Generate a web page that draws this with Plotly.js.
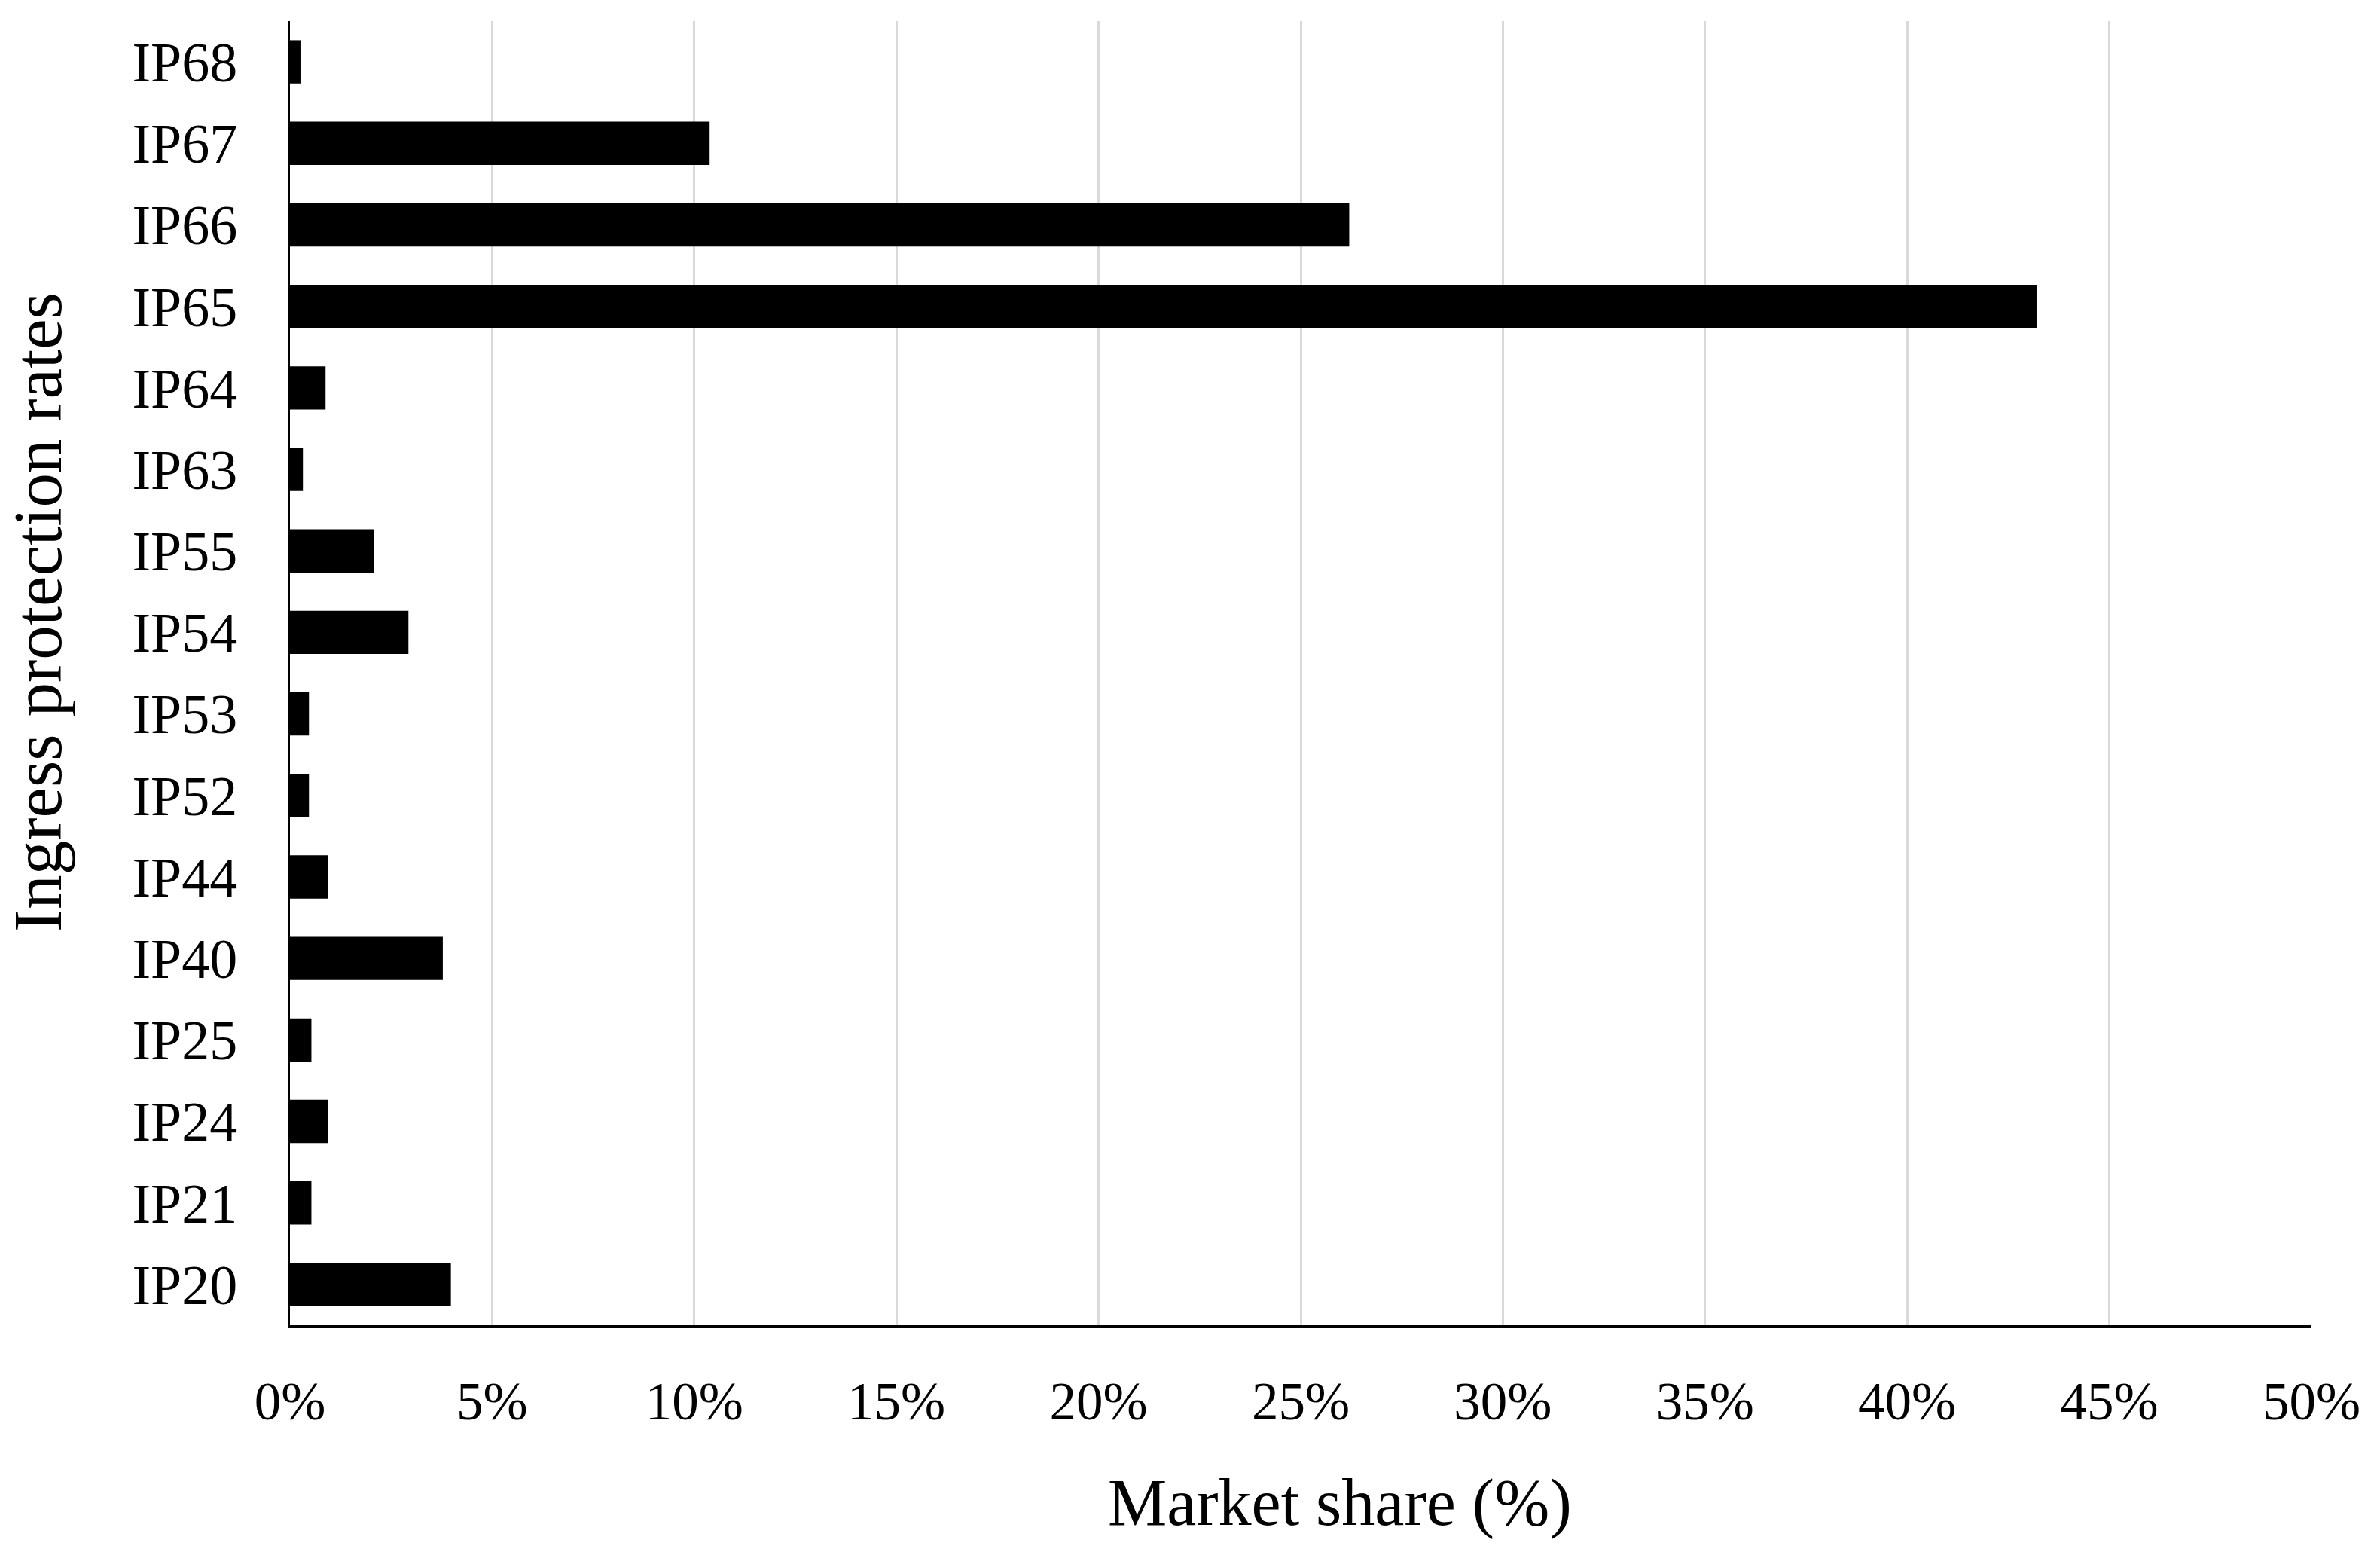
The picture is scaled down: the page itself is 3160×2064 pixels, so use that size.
<!DOCTYPE html>
<html>
<head>
<meta charset="utf-8">
<script src="https://cdn.plot.ly/plotly-3.0.1.min.js"></script>
<style>html,body{margin:0;padding:0;background:#fff;}#chart{width:3160px;height:2064px;}</style>
</head>
<body>
<div id="chart"></div>
<script>
// Categories listed bottom to top
const categories = ["IP20","IP21","IP24","IP25","IP40","IP44","IP52","IP53","IP54","IP55","IP63","IP64","IP65","IP66","IP67","IP68"];
// Market share (%)
const shares = [3.98, 0.53, 0.95, 0.53, 3.78, 0.95, 0.47, 0.47, 2.93, 2.07, 0.32, 0.88, 43.2, 26.2, 10.38, 0.26];
const xTickValues = [0,5,10,15,20,25,30,35,40,45,50];
const xTitle = 'Market share (%)';
const yTitle = 'Ingress protection rates';

const fontFam = "'Liberation Serif', 'DejaVu Serif', serif";

const trace = {
  type: 'bar',
  orientation: 'h',
  y: categories,
  x: shares,
  marker: {color: '#000000', line: {width: 0}},
  hoverinfo: 'x+y'
};

const layout = {
  width: 3160,
  height: 2064,
  paper_bgcolor: '#ffffff',
  plot_bgcolor: '#ffffff',
  margin: {l: 385, r: 91, t: 28, b: 305},
  bargap: 0.47,
  showlegend: false,
  font: {family: fontFam, color: '#000000'},
  xaxis: {
    range: [0, 50],
    tickvals: xTickValues,
    ticktext: xTickValues.map(v => v + '%'),
    showgrid: true,
    gridcolor: '#d9d9d9',
    gridwidth: 3,
    zeroline: false,
    showline: true,
    linecolor: '#000000',
    linewidth: 4,
    ticks: '',
    ticklabelstandoff: 36,
    tickfont: {family: fontFam, size: 71, color: '#000000'}
  },
  yaxis: {
    type: 'category',
    categoryorder: 'array',
    categoryarray: categories,
    showgrid: false,
    zeroline: false,
    showline: true,
    linecolor: '#000000',
    linewidth: 3,
    ticks: '',
    ticklabelstandoff: 52,
    tickfont: {family: fontFam, size: 74, color: '#000000'}
  },
  annotations: [
    {text: xTitle, xref: 'paper', yref: 'paper', x: 0.5194, y: -0.1363,
     xanchor: 'center', yanchor: 'middle', showarrow: false,
     font: {family: fontFam, size: 88, color: '#000000'}},
    {text: yTitle, xref: 'paper', yref: 'paper', x: -0.1248, y: 0.5465,
     xanchor: 'center', yanchor: 'middle', showarrow: false, textangle: -90,
     font: {family: fontFam, size: 91, color: '#000000'}}
  ]
};

Plotly.newPlot('chart', [trace], layout, {displayModeBar: false, staticPlot: true});
</script>
</body>
</html>
